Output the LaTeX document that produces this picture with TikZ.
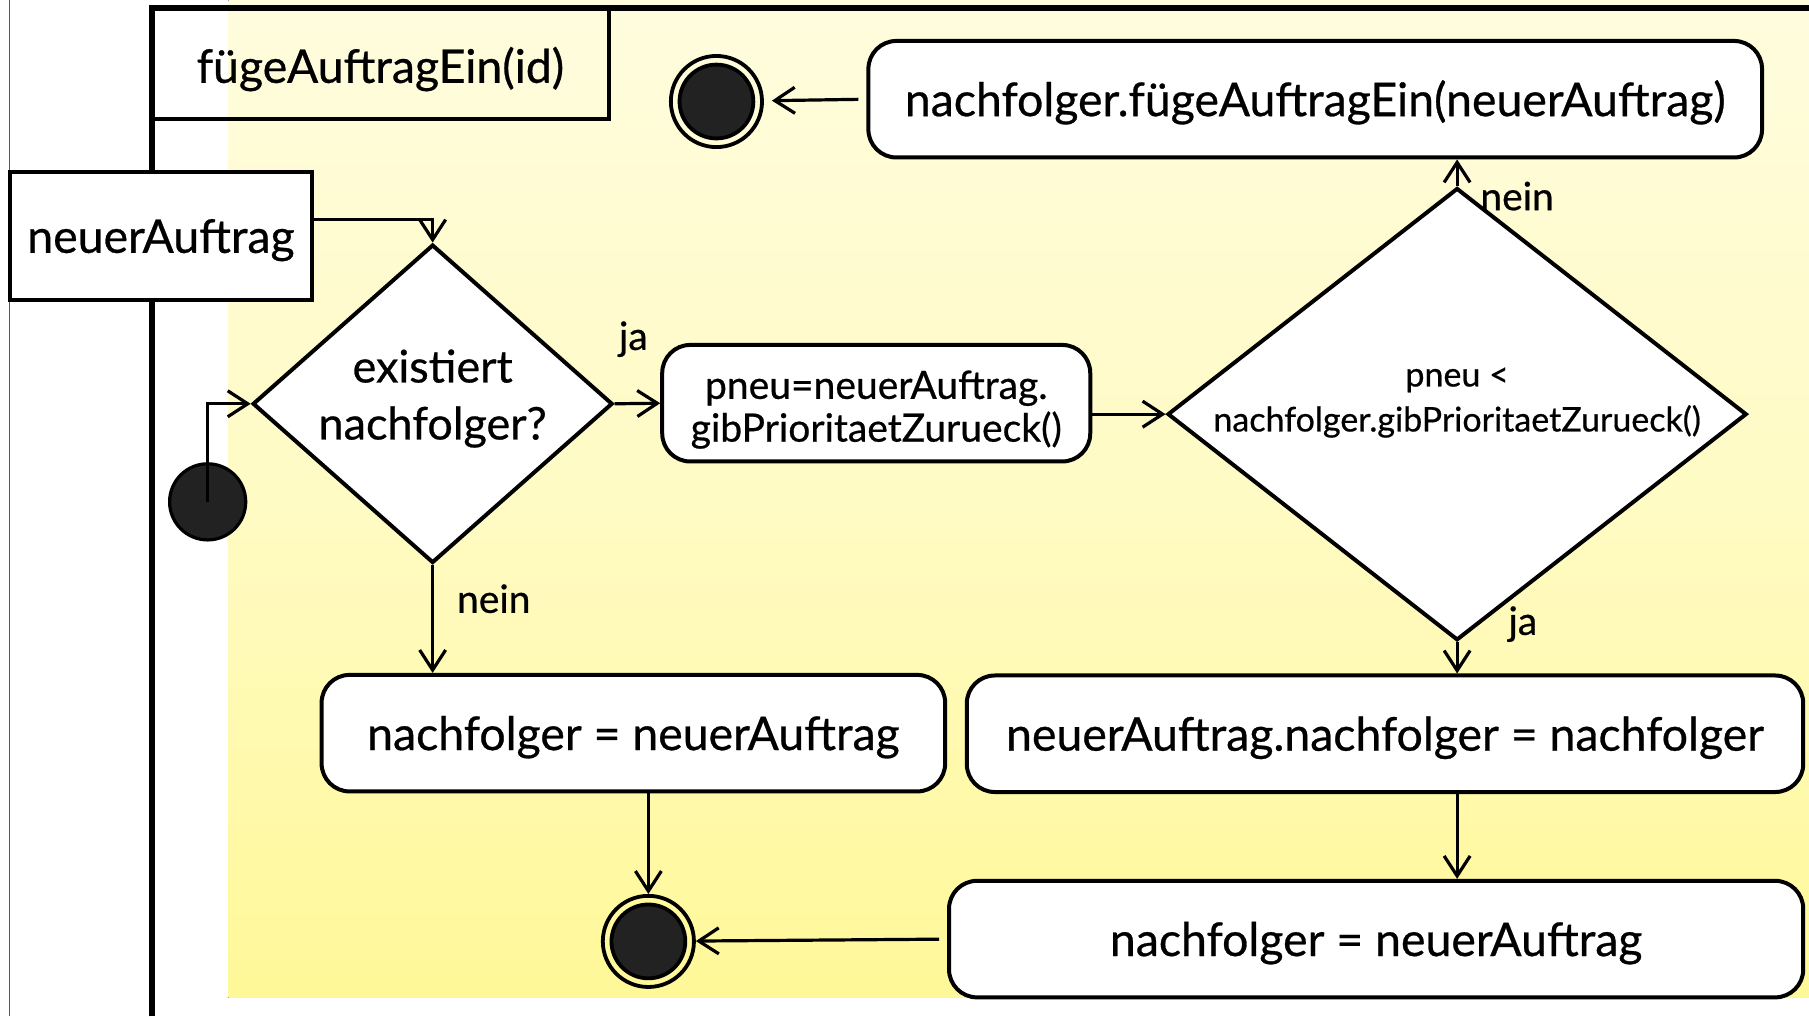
\documentclass[tikz,border=0pt]{standalone}
\usepackage{fontspec}
\setmainfont{Lato}[FakeBold=0.6]
\usetikzlibrary{shapes.geometric,arrows.meta}

% one drawing unit in points
\newcommand\dpx{0.5769pt}
\newcommand\bigtext{\fontsize{23.2pt}{28pt}\selectfont}
\newcommand\asktext{\fontsize{22.5pt}{28.5pt}\selectfont}
\newcommand\midtext{\fontsize{19.5pt}{21.4pt}\selectfont}
\newcommand\smalltext{\fontsize{17pt}{22.5pt}\selectfont}

\definecolor{bgtop}{HTML}{FFFCDE}
\definecolor{bgmid}{HTML}{FFFBC4}
\definecolor{bgbot}{HTML}{FFF898}
\definecolor{dotfill}{HTML}{222222}

\tikzset{
  frameline/.style={line width=2.8pt},
  plainbox/.style={draw, rectangle, line width=2pt, inner sep=0pt, font=\bigtext,
                   text height=21.5pt, text depth=4.6pt},
  actbox/.style={draw, fill=white, rectangle, rounded corners=14pt, line width=2pt,
                 minimum height=101*\dpx, inner sep=0pt, align=center},
  oneline/.style={font=\bigtext, text height=21.5pt, text depth=4.6pt},
  decision/.style={draw, fill=white, diamond, line width=2pt, inner sep=0pt},
  startdot/.style={circle, draw, fill=dotfill, line width=1.6pt, minimum size=66*\dpx, inner sep=0pt},
  endring/.style={circle, draw, line width=1.9pt, minimum size=79*\dpx, inner sep=0pt},
  enddot/.style={circle, draw, fill=dotfill, line width=1.9pt, minimum size=64*\dpx, inner sep=0pt},
  flow/.style={line width=1.6pt, -{Straight Barb[length=10pt,width=13pt]}},
  guard/.style={inner sep=0pt, font=\fontsize{19.5pt}{22pt}\selectfont},
}

\begin{document}
\begin{tikzpicture}[x=\dpx, y=-\dpx]
\useasboundingbox (0,0) rectangle (1568,881);
\fill[white] (0,0) rectangle (1568,881);

% swimlane background and frame
\fill[top color=bgtop, bottom color=bgbot, middle color=bgmid] (198,0) rectangle (1568,865);
\draw[gray!70!black, line width=0.6pt] (8,0) -- (8,881);
\draw[frameline] (131.5,881) -- (131.5,7) -- (1568,7);

% activity name and parameter
\node[plainbox, minimum width=396.5*\dpx, minimum height=96*\dpx, text height=24pt] (title) at (329.75,55) {fügeAuftragEin(id)};
\node[plainbox, fill=white, minimum width=262*\dpx, minimum height=111*\dpx] (neu) at (139.5,204.5) {neuerAuftrag};

% decisions
\node[decision, minimum width=312*\dpx, minimum height=276*\dpx] (d1) at (375,350) {};
\node[font=\asktext, align=center, inner sep=0pt] (d1t) at (375,345.5) {existiert\\nachfolger?};
\node[decision, minimum width=502*\dpx, minimum height=392*\dpx] (d2) at (1263,359) {};
\node[font=\smalltext, align=center, inner sep=0pt] (d2t) at (1263,349) {pneu <\\nachfolger.gibPrioritaetZurueck()};

% actions
\node[actbox, font=\midtext, minimum width=371*\dpx, text height=42pt] (a1) at (759.5,349.5) {pneu=neuerAuftrag.\\gibPrioritaetZurueck()};
\node[actbox, oneline, minimum width=774.6*\dpx] (atop) at (1140,86) {nachfolger.fügeAuftragEin(neuerAuftrag)};
\node[actbox, oneline, minimum width=540.5*\dpx] (b1) at (549,635.5) {nachfolger = neuerAuftrag};
\node[actbox, oneline, minimum width=725*\dpx] (b2) at (1200.5,636) {neuerAuftrag.nachfolger = nachfolger};
\node[actbox, oneline, minimum width=740.4*\dpx] (b3) at (1192.8,814) {nachfolger = neuerAuftrag};

% initial and final nodes
\node[startdot] (init) at (180,435) {};
\node[endring] (f1) at (621,88) {};
\node[enddot] (f1in) at (f1) {};
\node[endring] (f2) at (562,816) {};
\node[enddot] (f2in) at (f2) {};

% control flow
\draw[flow] ([yshift=8.4pt]neu.east) -| (d1.north);
\draw[flow] (init.center) |- (d1.west);
\draw[flow] (d1.east) -- (a1.west);
\draw[flow] (d2.west -| a1.east) -- (d2.west);
\draw[flow] (d2.north) -- (d2.north |- atop.south);
\draw[flow, shorten <=4pt, shorten >=4pt] (atop.west) -- (f1);
\draw[flow] (d2.south) -- (d2.south |- b2.north);
\draw[flow] (d2.south |- b2.south) -- (d2.south |- b3.north);
\draw[flow, shorten <=4pt] (b3.west) -- (f2);
\draw[flow] (d1.south) -- (d1.south |- b1.north);
\draw[flow] (f2 |- b1.south) -- (f2.north);

% guards
\node[guard] (g1) at (549,294) {ja};
\node[guard] (g2) at (428,519) {nein};
\node[guard] (g3) at (1315,170) {nein};
\node[guard] (g4) at (1320,541) {ja};
\end{tikzpicture}
\end{document}
